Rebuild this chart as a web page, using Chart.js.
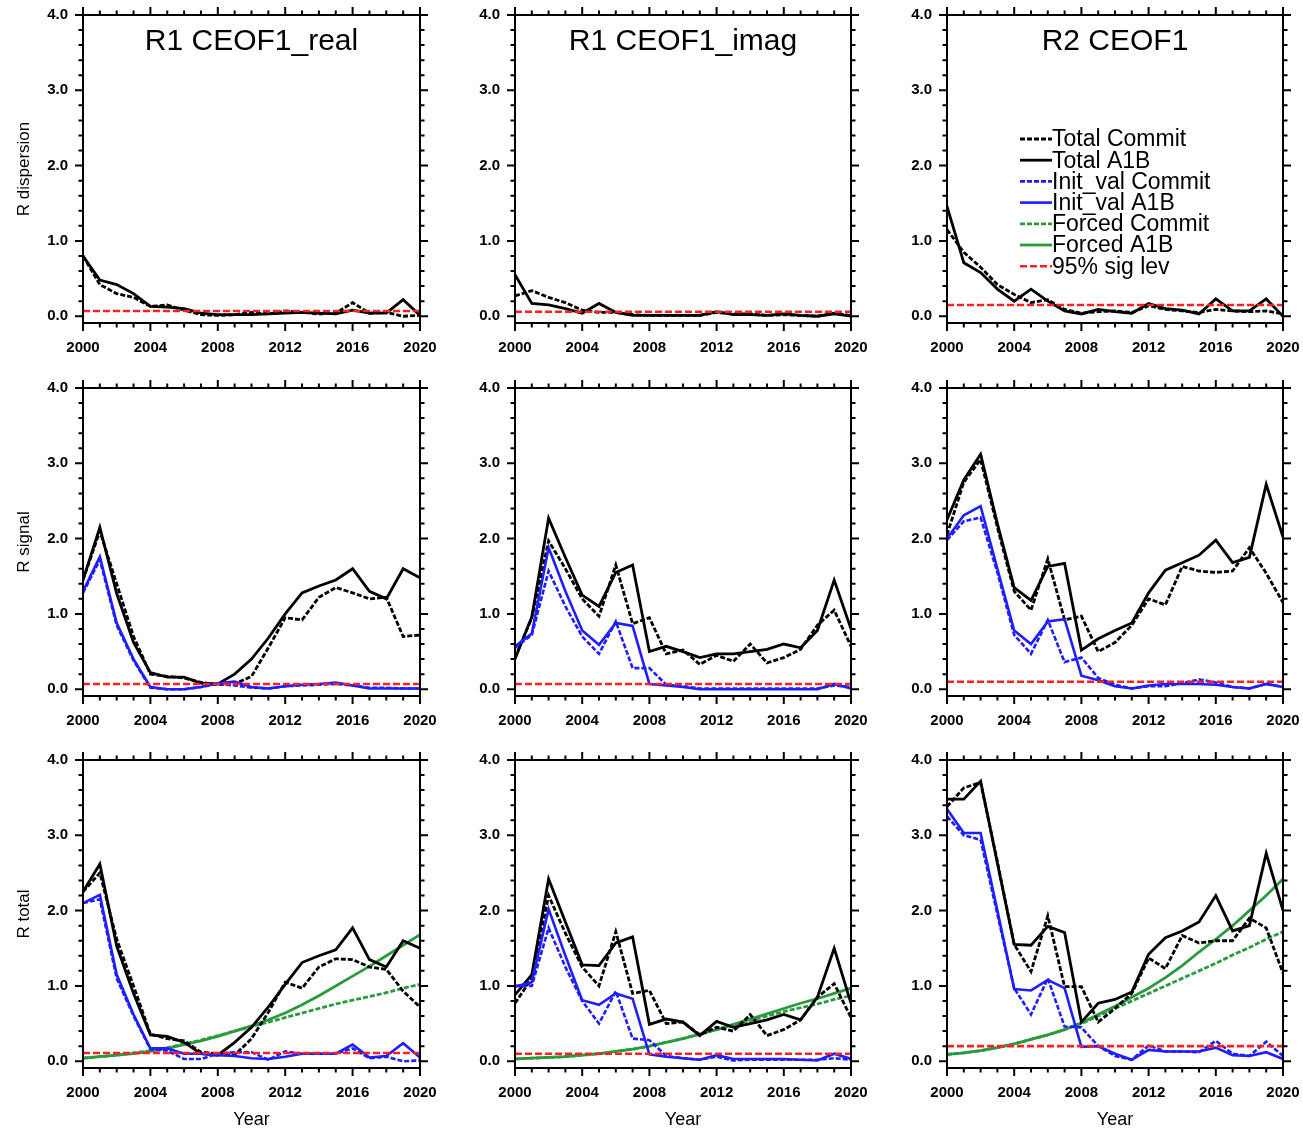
<!DOCTYPE html>
<html>
<head>
<meta charset="utf-8">
<title>R dispersion / R signal / R total</title>
<script src="https://cdn.jsdelivr.net/npm/chart.js@4.4.1/dist/chart.umd.min.js"></script>
<style>
  html, body { margin: 0; padding: 0; background: #fff; }
  #wrap { position: relative; width: 1303px; height: 1129px; overflow: hidden; background: #fff; }
  #wrap canvas { position: absolute; }
</style>
</head>
<body>
<div id="wrap"></div>
<script>
const years = [2000, 2001, 2002, 2003, 2004, 2005, 2006, 2007, 2008, 2009, 2010,
               2011, 2012, 2013, 2014, 2015, 2016, 2017, 2018, 2019, 2020];
const xTickVals = [2000, 2004, 2008, 2012, 2016, 2020];
const yTickVals = [0, 1, 2, 3, 4];
const panelTitles = ["R1 CEOF1_real", "R1 CEOF1_imag", "R2 CEOF1"];
const rowLabels = ["R dispersion", "R signal", "R total"];
const seriesNames = ["Total Commit", "Total A1B", "Init_val Commit", "Init_val A1B",
                     "Forced Commit", "Forced A1B", "95% sig lev"];

// row 1: R dispersion
const dispRealCommit = [0.80,0.42,0.30,0.25,0.13,0.15,0.08,0.02,0.01,0.02,0.05,0.03,0.07,0.05,0.03,0.04,0.18,0.04,0.05,0.00,0.01];
const dispRealA1B    = [0.80,0.48,0.42,0.30,0.13,0.12,0.10,0.04,0.02,0.02,0.02,0.03,0.04,0.05,0.04,0.03,0.08,0.04,0.04,0.22,0.01];
const dispImagCommit = [0.27,0.34,0.25,0.18,0.08,0.05,0.05,0.02,0.01,0.01,0.01,0.01,0.05,0.03,0.03,0.01,0.02,0.01,0.00,0.04,0.01];
const dispImagA1B    = [0.55,0.17,0.15,0.10,0.04,0.17,0.05,0.01,0.01,0.01,0.01,0.01,0.06,0.02,0.02,0.01,0.03,0.01,0.00,0.03,0.00];
const dispR2Commit   = [1.15,0.85,0.65,0.42,0.29,0.18,0.22,0.09,0.04,0.06,0.07,0.05,0.14,0.09,0.07,0.05,0.09,0.07,0.06,0.07,0.03];
const dispR2A1B      = [1.46,0.71,0.58,0.36,0.20,0.36,0.20,0.07,0.03,0.09,0.06,0.04,0.17,0.10,0.08,0.03,0.23,0.07,0.07,0.23,0.00];

// row 2: R signal
const signalRealTotalCommit = [1.45,2.10,1.40,0.70,0.20,0.17,0.15,0.09,0.06,0.07,0.17,0.55,0.95,0.92,1.22,1.35,1.28,1.20,1.22,0.70,0.72];
const signalRealTotalA1B    = [1.45,2.15,1.27,0.62,0.22,0.16,0.16,0.08,0.07,0.20,0.40,0.68,1.00,1.28,1.37,1.45,1.60,1.30,1.20,1.60,1.48];
const signalRealInitCommit  = [1.28,1.72,0.85,0.38,0.02,0.00,0.00,0.03,0.07,0.05,0.02,0.01,0.04,0.05,0.06,0.07,0.05,0.02,0.02,0.01,0.01];
const signalRealInitA1B     = [1.30,1.76,0.88,0.40,0.03,0.00,0.00,0.03,0.08,0.10,0.03,0.01,0.04,0.06,0.07,0.09,0.05,0.01,0.01,0.01,0.01];

const signalImagTotalCommit = [0.42,0.95,1.97,1.60,1.20,0.97,1.65,0.87,0.95,0.47,0.52,0.33,0.45,0.37,0.60,0.35,0.42,0.53,0.85,1.05,0.57];
const signalImagTotalA1B    = [0.40,0.96,2.27,1.75,1.25,1.10,1.55,1.65,0.50,0.57,0.50,0.42,0.47,0.47,0.50,0.53,0.60,0.55,0.78,1.45,0.80];
const signalImagInitCommit  = [0.55,0.72,1.57,1.10,0.70,0.47,0.90,0.28,0.28,0.06,0.04,0.01,0.01,0.01,0.01,0.01,0.01,0.01,0.01,0.05,0.03];
const signalImagInitA1B     = [0.57,0.74,1.88,1.30,0.78,0.59,0.88,0.84,0.07,0.05,0.03,0.00,0.00,0.00,0.00,0.00,0.00,0.00,0.00,0.07,0.01];

const signalR2TotalCommit = [2.05,2.75,3.05,2.15,1.30,1.05,1.73,0.92,0.97,0.50,0.62,0.85,1.20,1.12,1.63,1.57,1.55,1.57,1.88,1.54,1.15];
const signalR2TotalA1B    = [2.25,2.78,3.12,2.20,1.35,1.18,1.63,1.67,0.52,0.67,0.78,0.88,1.28,1.58,1.68,1.78,1.98,1.68,1.75,2.72,2.02];
const signalR2InitCommit  = [1.98,2.23,2.28,1.55,0.72,0.47,0.92,0.36,0.42,0.15,0.06,0.01,0.04,0.04,0.08,0.13,0.09,0.03,0.01,0.07,0.03];
const signalR2InitA1B     = [2.00,2.31,2.43,1.60,0.78,0.60,0.90,0.93,0.18,0.12,0.04,0.01,0.05,0.07,0.07,0.07,0.06,0.03,0.01,0.07,0.03];

// row 3: R total
const totalRealTotalCommit  = [2.25,2.50,1.62,1.00,0.36,0.30,0.27,0.12,0.10,0.08,0.30,0.65,1.05,0.97,1.25,1.36,1.35,1.25,1.22,0.93,0.72];
const totalRealTotalA1B     = [2.25,2.62,1.53,0.90,0.35,0.33,0.25,0.10,0.08,0.25,0.45,0.72,1.02,1.31,1.40,1.48,1.77,1.35,1.25,1.60,1.50];
const totalRealInitCommit   = [2.10,2.15,1.10,0.60,0.16,0.14,0.03,0.03,0.10,0.12,0.12,0.02,0.13,0.10,0.10,0.10,0.17,0.04,0.06,0.00,0.01];
const totalRealInitA1B      = [2.10,2.21,1.15,0.62,0.17,0.17,0.10,0.10,0.08,0.07,0.04,0.03,0.06,0.10,0.10,0.10,0.22,0.05,0.07,0.24,0.05];
const totalRealForcedCommit = [0.04,0.06,0.08,0.11,0.14,0.18,0.23,0.28,0.34,0.40,0.46,0.52,0.58,0.64,0.70,0.76,0.81,0.86,0.91,0.97,1.02];
const totalRealForcedA1B    = [0.04,0.06,0.08,0.10,0.13,0.17,0.22,0.27,0.33,0.40,0.47,0.55,0.64,0.75,0.87,1.00,1.13,1.26,1.40,1.54,1.68];

const totalImagTotalCommit  = [0.77,1.10,2.20,1.70,1.25,1.00,1.72,0.90,0.94,0.50,0.52,0.35,0.45,0.40,0.62,0.34,0.42,0.55,0.85,1.03,0.58];
const totalImagTotalA1B     = [0.88,1.15,2.42,1.85,1.28,1.27,1.57,1.65,0.49,0.56,0.52,0.34,0.53,0.45,0.50,0.55,0.62,0.55,0.85,1.50,0.77];
const totalImagInitCommit   = [1.00,1.00,1.77,1.25,0.80,0.50,0.93,0.30,0.28,0.07,0.04,0.02,0.06,0.01,0.02,0.02,0.02,0.02,0.02,0.04,0.02];
const totalImagInitA1B      = [0.99,1.05,2.02,1.40,0.81,0.75,0.90,0.83,0.09,0.06,0.04,0.02,0.08,0.03,0.03,0.03,0.03,0.02,0.01,0.10,0.03];
const totalImagForcedCommit = [0.03,0.04,0.05,0.06,0.08,0.10,0.13,0.16,0.20,0.25,0.30,0.36,0.42,0.48,0.54,0.60,0.66,0.71,0.76,0.82,0.87];
const totalImagForcedA1B    = [0.03,0.04,0.05,0.06,0.08,0.10,0.13,0.16,0.20,0.25,0.30,0.36,0.42,0.49,0.56,0.63,0.70,0.77,0.83,0.90,0.97];

const totalR2TotalCommit  = [3.38,3.63,3.70,2.65,1.55,1.19,1.93,0.99,0.99,0.52,0.70,0.90,1.37,1.23,1.67,1.57,1.60,1.60,1.90,1.77,1.17];
const totalR2TotalA1B     = [3.48,3.48,3.72,2.63,1.55,1.54,1.79,1.71,0.52,0.77,0.82,0.92,1.42,1.64,1.73,1.85,2.20,1.73,1.80,2.76,2.00];
const totalR2InitCommit   = [3.25,3.00,2.94,1.95,0.97,0.62,1.10,0.46,0.45,0.20,0.07,0.02,0.21,0.13,0.13,0.12,0.27,0.10,0.07,0.26,0.07];
const totalR2InitA1B      = [3.35,3.03,3.03,2.00,0.96,0.94,1.08,0.97,0.19,0.20,0.10,0.02,0.15,0.13,0.13,0.13,0.18,0.08,0.07,0.12,0.03];
const totalR2ForcedCommit = [0.09,0.11,0.14,0.18,0.23,0.29,0.35,0.42,0.50,0.60,0.70,0.80,0.90,1.00,1.10,1.20,1.30,1.41,1.51,1.62,1.72];
const totalR2ForcedA1B    = [0.09,0.11,0.14,0.18,0.23,0.29,0.35,0.42,0.51,0.62,0.73,0.85,0.97,1.11,1.27,1.45,1.62,1.80,2.00,2.20,2.42];

// 95% significance level per row, per column
const sigLevDisp   = [0.07, 0.06, 0.15];
const sigLevSignal = [0.07, 0.07, 0.10];
const sigLevTotal  = [0.11, 0.10, 0.20];

const FONT = '"Liberation Sans", Arial, Helvetica, sans-serif';

const seriesKeys = ["totalCommit", "totalA1B", "initCommit", "initA1B", "forcedCommit", "forcedA1B", "sigLev"];
const STYLE = {
  totalCommit:  { color: "#000000", dash: [5, 2], width: 2.8 },
  totalA1B:     { color: "#000000", dash: [],     width: 2.8 },
  initCommit:   { color: "#1e1eff", dash: [5, 2], width: 2.6 },
  initA1B:      { color: "#1e1eff", dash: [],     width: 2.6 },
  forcedCommit: { color: "#2b9a3f", dash: [5, 2], width: 2.8 },
  forcedA1B:    { color: "#2b9a3f", dash: [],     width: 2.8 },
  sigLev:       { color: "#ff2020", dash: [7, 3], width: 2.6 }
};
// top of the stack first
const drawOrder = ["sigLev", "initA1B", "initCommit", "totalA1B", "totalCommit", "forcedA1B", "forcedCommit"];

const panels = [
  { row: 0, col: 0, sigLev: sigLevDisp[0], lines: { totalCommit: dispRealCommit, totalA1B: dispRealA1B } },
  { row: 0, col: 1, sigLev: sigLevDisp[1], lines: { totalCommit: dispImagCommit, totalA1B: dispImagA1B } },
  { row: 0, col: 2, sigLev: sigLevDisp[2], lines: { totalCommit: dispR2Commit, totalA1B: dispR2A1B } },
  { row: 1, col: 0, sigLev: sigLevSignal[0], lines: { totalCommit: signalRealTotalCommit, totalA1B: signalRealTotalA1B,
      initCommit: signalRealInitCommit, initA1B: signalRealInitA1B } },
  { row: 1, col: 1, sigLev: sigLevSignal[1], lines: { totalCommit: signalImagTotalCommit, totalA1B: signalImagTotalA1B,
      initCommit: signalImagInitCommit, initA1B: signalImagInitA1B } },
  { row: 1, col: 2, sigLev: sigLevSignal[2], lines: { totalCommit: signalR2TotalCommit, totalA1B: signalR2TotalA1B,
      initCommit: signalR2InitCommit, initA1B: signalR2InitA1B } },
  { row: 2, col: 0, sigLev: sigLevTotal[0], lines: { totalCommit: totalRealTotalCommit, totalA1B: totalRealTotalA1B,
      initCommit: totalRealInitCommit, initA1B: totalRealInitA1B, forcedCommit: totalRealForcedCommit, forcedA1B: totalRealForcedA1B } },
  { row: 2, col: 1, sigLev: sigLevTotal[1], lines: { totalCommit: totalImagTotalCommit, totalA1B: totalImagTotalA1B,
      initCommit: totalImagInitCommit, initA1B: totalImagInitA1B, forcedCommit: totalImagForcedCommit, forcedA1B: totalImagForcedA1B } },
  { row: 2, col: 2, sigLev: sigLevTotal[2], lines: { totalCommit: totalR2TotalCommit, totalA1B: totalR2TotalA1B,
      initCommit: totalR2InitCommit, initA1B: totalR2InitA1B, forcedCommit: totalR2ForcedCommit, forcedA1B: totalR2ForcedA1B } }
];

// grid geometry (plot frames)
const colLeft = [83, 515, 947];
const plotW = [337, 336, 336];
const yAxisW = [83, 55, 56];
const rowTop = [15, 388, 760];
const plotH = 308;
const xAxisH = [40, 40, 63];
const padTop = 12, padRight = 26;

// frame box plus outward major/minor ticks on all four sides
const frameTicks = {
  id: "frameTicks",
  afterDatasetsDraw(chart) {
    const { ctx, chartArea: a, scales: { x, y } } = chart;
    ctx.save();
    ctx.strokeStyle = "#000";
    ctx.lineWidth = 2;
    ctx.strokeRect(a.left, a.top, a.right - a.left, a.bottom - a.top);
    ctx.beginPath();
    years.forEach(yr => {
      const px = x.getPixelForValue(yr);
      const len = xTickVals.includes(yr) ? 8 : 4.5;
      ctx.moveTo(px, a.bottom); ctx.lineTo(px, a.bottom + len);
      ctx.moveTo(px, a.top);    ctx.lineTo(px, a.top - len);
    });
    for (let i = 0; i <= 20; i++) {
      const py = y.getPixelForValue(i * 0.2);
      const len = i % 5 === 0 ? 8 : 4.5;
      ctx.moveTo(a.left, py);  ctx.lineTo(a.left - len, py);
      ctx.moveTo(a.right, py); ctx.lineTo(a.right + len, py);
    }
    ctx.stroke();
    ctx.restore();
  }
};

// panel title and the legend box inside the plot area
const panelText = {
  id: "panelText",
  afterDraw(chart, args, opts) {
    const { ctx, chartArea: a } = chart;
    ctx.save();
    ctx.fillStyle = "#000";
    if (opts.title) {
      ctx.font = "30px " + FONT;
      ctx.textAlign = "center";
      ctx.textBaseline = "alphabetic";
      ctx.fillText(opts.title, (a.left + a.right) / 2, a.top + 35);
    }
    if (opts.legend) {
      const x0 = a.left + 73, x1 = a.left + 105;
      ctx.font = "23px " + FONT;
      ctx.textAlign = "left";
      ctx.textBaseline = "middle";
      seriesKeys.forEach((key, i) => {
        const yy = a.top + 124 + i * 21.2;
        const st = STYLE[key];
        ctx.beginPath();
        ctx.strokeStyle = st.color;
        ctx.lineWidth = st.width;
        ctx.setLineDash(st.dash);
        ctx.moveTo(x0, yy); ctx.lineTo(x1, yy);
        ctx.stroke();
        ctx.setLineDash([]);
        ctx.fillText(seriesNames[i], x1, yy + 1);
      });
    }
    ctx.restore();
  }
};

const tickFont = { family: FONT, size: 15, weight: "bold" };
const wrap = document.getElementById("wrap");

// drop the label overhang padding so the frame sits where the layout puts it
function noOverhang(s) {
  s.paddingTop = 0; s.paddingBottom = 0; s.paddingLeft = 0; s.paddingRight = 0;
}

function makePanel(p) {
  const r = p.row, c = p.col;
  const w = yAxisW[c] + plotW[c] + padRight;
  const h = padTop + plotH + xAxisH[r];
  const cv = document.createElement("canvas");
  cv.width = w; cv.height = h;
  cv.style.left = (colLeft[c] - yAxisW[c]) + "px";
  cv.style.top = (rowTop[r] - padTop) + "px";
  cv.style.width = w + "px";
  cv.style.height = h + "px";
  wrap.appendChild(cv);

  const datasets = [];
  drawOrder.forEach(key => {
    let pts;
    if (key === "sigLev") {
      pts = [{ x: years[0], y: p.sigLev }, { x: years[years.length - 1], y: p.sigLev }];
    } else if (p.lines[key]) {
      pts = p.lines[key].map((v, i) => ({ x: years[i], y: v }));
    } else {
      return;
    }
    const st = STYLE[key];
    datasets.push({
      label: seriesNames[seriesKeys.indexOf(key)],
      data: pts,
      borderColor: st.color,
      borderWidth: st.width,
      borderDash: st.dash,
      pointRadius: 0,
      tension: 0,
      fill: false
    });
  });

  new Chart(cv, {
    type: "line",
    data: { datasets },
    plugins: [frameTicks, panelText],
    options: {
      responsive: false,
      animation: false,
      events: [],
      devicePixelRatio: 1,
      layout: { padding: { top: padTop, right: padRight, left: 0, bottom: 0 } },
      plugins: {
        legend: { display: false },
        tooltip: { enabled: false },
        panelText: { title: r === 0 ? panelTitles[c] : null, legend: r === 0 && c === 2 }
      },
      scales: {
        x: {
          type: "linear",
          min: years[0],
          max: years[years.length - 1],
          afterBuildTicks: s => { s.ticks = xTickVals.map(v => ({ value: v })); },
          afterFit: s => { s.height = xAxisH[r]; noOverhang(s); },
          ticks: { callback: v => String(v), font: tickFont, color: "#000", padding: 16, maxRotation: 0, autoSkip: false },
          grid: { display: false, drawTicks: false },
          border: { display: false },
          title: { display: r === 2, text: "Year", color: "#000", font: { family: FONT, size: 18 }, padding: { top: 0, bottom: 0 } }
        },
        y: {
          min: -0.09,
          max: 4,
          afterBuildTicks: s => { s.ticks = yTickVals.map(v => ({ value: v })); },
          afterFit: s => { s.width = yAxisW[c]; noOverhang(s); },
          ticks: { callback: v => v.toFixed(1), font: tickFont, color: "#000", padding: 15, autoSkip: false },
          grid: { display: false, drawTicks: false },
          border: { display: false },
          title: { display: c === 0, text: rowLabels[r], color: "#000", font: { family: FONT, size: 17 }, padding: { top: 14, bottom: 0 } }
        }
      }
    }
  });
}

panels.forEach(makePanel);
</script>
</body>
</html>
